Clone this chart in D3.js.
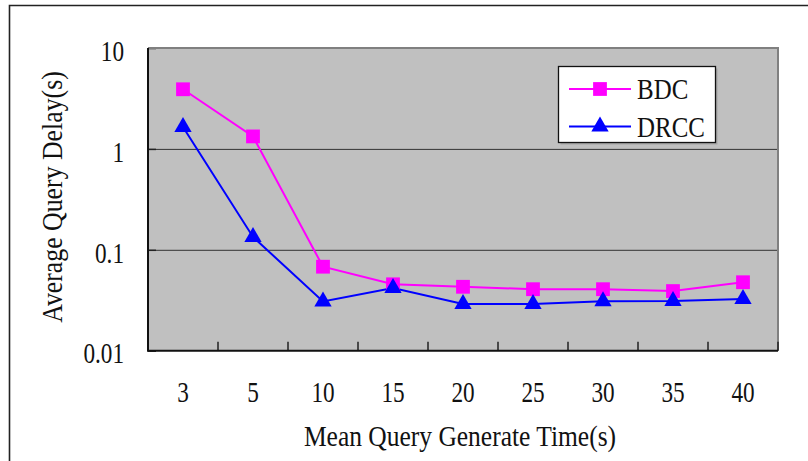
<!DOCTYPE html>
<html>
<head>
<meta charset="utf-8">
<script src="https://cdn.jsdelivr.net/npm/d3@7/dist/d3.min.js"></script>
<style>
  html, body { margin: 0; padding: 0; background: #fff; }
  svg { display: block; }
  text { font-family: "Liberation Serif", "Times New Roman", serif; fill: #111; }
</style>
</head>
<body>
<svg id="chart" width="808" height="461"></svg>
<script>
// Mean query generate time (s) on the x axis
const categories = ["3", "5", "10", "15", "20", "25", "30", "35", "40"];
// Average query delay (s) per scheme
const bdcValues  = [3.9, 1.33, 0.068, 0.0455, 0.043, 0.0407, 0.0407, 0.039, 0.0477];
const drccValues = [1.65, 0.134, 0.0308, 0.0419, 0.0291, 0.0291, 0.0309, 0.031, 0.0326];
const seriesNames = ["BDC", "DRCC"];
const yTickValues = [0.01, 0.1, 1, 10];
const yTickLabels = ["0.01", "0.1", "1", "10"];

const svg = d3.select("#chart");
const plot = { left: 148, right: 778, top: 48, bottom: 350.7 };

const x = d3.scaleBand().domain(categories).range([plot.left, plot.right]);
const y = d3.scaleLog().domain([0.01, 10]).range([plot.bottom, plot.top]);

// narrow serif lettering
function label(parent, px, py, str, size, sx, anchor, rot) {
  const g = parent.append("g")
    .attr("transform", `translate(${px},${py}) rotate(${rot || 0}) scale(${sx},1)`);
  g.append("text")
    .attr("text-anchor", anchor)
    .attr("font-size", size)
    .text(str);
  return g;
}

// outer frame
svg.append("path")
  .attr("d", "M9.5,470 L9.5,5.5 L820,5.5")
  .attr("fill", "none").attr("stroke", "#222").attr("stroke-width", 1.6);

// plot background
svg.append("rect")
  .attr("x", plot.left).attr("y", plot.top)
  .attr("width", plot.right - plot.left).attr("height", plot.bottom - plot.top)
  .attr("fill", "#c0c0c0");

// horizontal gridlines
svg.append("g")
  .attr("transform", `translate(${plot.left},0)`)
  .call(d3.axisLeft(y).tickValues([0.1, 1]).tickSize(-(plot.right - plot.left)).tickFormat(""))
  .call(g => g.select(".domain").remove())
  .call(g => g.selectAll("line").attr("stroke", "#333").attr("stroke-width", 1));

// short inner ticks on the value axis
svg.append("g")
  .attr("transform", `translate(${plot.left},0)`)
  .call(d3.axisRight(y).tickValues(yTickValues).tickSize(8).tickFormat(""))
  .call(g => g.select(".domain").remove())
  .call(g => g.selectAll("line").attr("stroke", "#222").attr("stroke-width", 1.5));

// top and right border (grey)
svg.append("path")
  .attr("d", `M${plot.left},${plot.top} L${plot.right},${plot.top} L${plot.right},${plot.bottom}`)
  .attr("fill", "none").attr("stroke", "#808080").attr("stroke-width", 2);

// category boundary ticks pointing up from the bottom axis
const boundaries = categories.slice(1).map(c => x(c)).concat([x.range()[1]]);
svg.append("g").selectAll("line")
  .data(boundaries)
  .join("line")
  .attr("x1", d => d).attr("x2", d => d)
  .attr("y1", plot.bottom).attr("y2", plot.bottom - 9)
  .attr("stroke", "#222").attr("stroke-width", 1.5);

// left and bottom axis lines
svg.append("path")
  .attr("d", `M${plot.left},${plot.top} L${plot.left},${plot.bottom} L${plot.right},${plot.bottom}`)
  .attr("fill", "none").attr("stroke", "#111").attr("stroke-width", 2);

// value axis labels
const tickSX = 0.8;
const yAxis = svg.append("g")
  .attr("transform", `translate(${plot.left},0)`)
  .call(d3.axisLeft(y).tickValues(yTickValues).tickSize(0)
    .tickFormat((d, i) => yTickLabels[i]))
  .call(g => g.select(".domain").remove());
yAxis.selectAll("text")
  .attr("font-size", 29)
  .attr("font-family", "Liberation Serif, serif")
  .attr("fill", "#111")
  .attr("transform", `scale(${tickSX},1)`)
  .attr("x", -24 / tickSX)
  .attr("y", 3);

// category axis labels
const xAxis = svg.append("g")
  .attr("transform", `translate(0,${plot.bottom})`)
  .call(d3.axisBottom(x).tickSize(0))
  .call(g => g.select(".domain").remove());
xAxis.selectAll(".tick text")
  .attr("font-size", 29)
  .attr("font-family", "Liberation Serif, serif")
  .attr("fill", "#111")
  .attr("transform", `scale(${tickSX},1)`)
  .attr("y", 51)
  .attr("dy", 0);

// series
const series = [
  { name: seriesNames[0], values: bdcValues, color: "#ff00ff", shape: d3.symbolSquare, size: 190 },
  { name: seriesNames[1], values: drccValues, color: "#0000ff", shape: d3.symbolTriangle, size: 130 }
];
const cx = c => x(c) + x.bandwidth() / 2;
const line = d3.line().x((d, i) => cx(categories[i])).y(d => y(d));

series.forEach(s => {
  svg.append("path")
    .datum(s.values)
    .attr("d", line)
    .attr("fill", "none")
    .attr("stroke", s.color)
    .attr("stroke-width", 2);
});
series.forEach(s => {
  svg.append("g").selectAll("path")
    .data(s.values)
    .join("path")
    .attr("transform", (d, i) => `translate(${cx(categories[i])},${y(d)})`)
    .attr("d", d3.symbol().type(s.shape).size(s.size))
    .attr("fill", s.color);
});

// legend
const lg = { x: 558.5, y: 66.5, w: 157, h: 76 };
svg.append("rect")
  .attr("x", lg.x + 2).attr("y", lg.y + 2).attr("width", lg.w).attr("height", lg.h)
  .attr("fill", "#8a8a8a").attr("opacity", 0.5);
svg.append("rect")
  .attr("x", lg.x).attr("y", lg.y).attr("width", lg.w).attr("height", lg.h)
  .attr("fill", "#fff").attr("stroke", "#111").attr("stroke-width", 1.3);
series.forEach((s, i) => {
  const ly = lg.y + 22.5 + i * 37.5;
  svg.append("line")
    .attr("x1", 569).attr("x2", 631).attr("y1", ly).attr("y2", ly)
    .attr("stroke", s.color).attr("stroke-width", 2);
  svg.append("path")
    .attr("transform", `translate(600,${ly})`)
    .attr("d", d3.symbol().type(s.shape).size(s.size))
    .attr("fill", s.color);
  label(svg, 637, ly + 10, s.name, 29, 0.86, "start");
});

// axis titles
label(svg, (plot.left + plot.right) / 2 - 3, 446, "Mean Query Generate Time(s)", 30, 0.85, "middle");
label(svg, 62, 197, "Average Query Delay(s)", 30, 0.86, "middle", -90);
</script>
</body>
</html>
